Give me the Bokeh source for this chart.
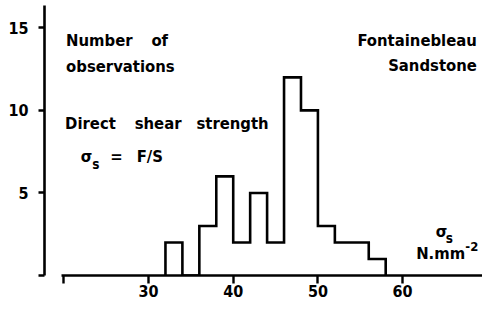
import numpy as np
from bokeh.plotting import figure
from bokeh.models import Label, FixedTicker, Range1d
from bokeh.embed import file_html
from bokeh.resources import INLINE

# ---- data ----
bin_edges = [32, 34, 36, 38, 40, 42, 44, 46, 48, 50, 52, 54, 56, 58]
counts = [2, 0, 3, 6, 2, 5, 2, 12, 10, 3, 2, 2, 1]
x_ticks = [20, 30, 40, 50, 60]
x_tick_labels = {20: ""}
y_ticks = [0, 5, 10, 15]
y_tick_labels = {0: ""}

FONT = "DejaVu Sans Condensed"

p = figure(width=482, height=303, output_backend="svg", toolbar_location=None,
           x_range=Range1d(17.72, 69.43), y_range=Range1d(0, 16.35),
           min_border_left=44, min_border_right=0, min_border_top=5,
           min_border_bottom=28)
p.outline_line_color = None
p.grid.visible = False
p.background_fill_color = "white"
p.border_fill_color = "white"

# step outline of the histogram
xs = [bin_edges[0]]
ys = [0]
for i, c in enumerate(counts):
    xs += [bin_edges[i], bin_edges[i + 1]]
    ys += [c, c]
xs.append(bin_edges[-1])
ys.append(0)
p.line(xs, ys, line_width=2.6, color="black", line_join="miter")

for ax in (p.xaxis[0], p.yaxis[0]):
    ax.axis_line_width = 2.6
    ax.axis_line_color = "black"
    ax.major_tick_line_width = 2.4
    ax.major_tick_line_color = "black"
    ax.major_tick_in = 0
    ax.minor_tick_line_color = None
    ax.major_label_text_font = FONT
    ax.major_label_text_font_style = "bold"
    ax.major_label_text_font_size = "16px"
    ax.major_label_text_color = "black"

p.xaxis.ticker = FixedTicker(ticks=x_ticks)
p.xaxis.major_label_overrides = x_tick_labels
p.xaxis.bounds = (19.7, 80)
p.xaxis.major_tick_out = 8
p.xaxis.major_label_standoff = 1

p.yaxis.ticker = FixedTicker(ticks=y_ticks)
p.yaxis.major_label_overrides = y_tick_labels
p.yaxis.major_tick_out = 6
p.yaxis.major_label_standoff = 10

# ---- annotation texts ----
def lab(text, x, y, size="16.5px", align="left"):
    p.add_layout(Label(x=x, y=y, text=text, text_font=FONT, text_font_style="bold",
                       text_font_size=size, text_align=align,
                       text_baseline="alphabetic", text_color="black"))

lab("Number", 20.27, 14.24)
lab("of", 30.34, 14.24)
lab("observations", 20.27, 12.65)
lab("Direct", 20.15, 9.19)
lab("shear", 28.37, 9.19)
lab("strength", 35.66, 9.19)
lab("\u03c3", 22.0, 7.19)
lab("s", 23.36, 6.78, size="13.5px")
lab("=", 25.47, 7.19)
lab("F/S", 28.6, 7.19)
lab("Fontainebleau", 68.76, 14.24, align="right")
lab("Sandstone", 68.76, 12.71, align="right")
lab("\u03c3", 63.9, 2.66)
lab("s", 65.1, 2.25, size="13.5px")
lab("N.mm", 61.6, 1.31)
lab("-2", 67.4, 1.75, size="13px")

open("out.html", "w").write(file_html(p, INLINE))
